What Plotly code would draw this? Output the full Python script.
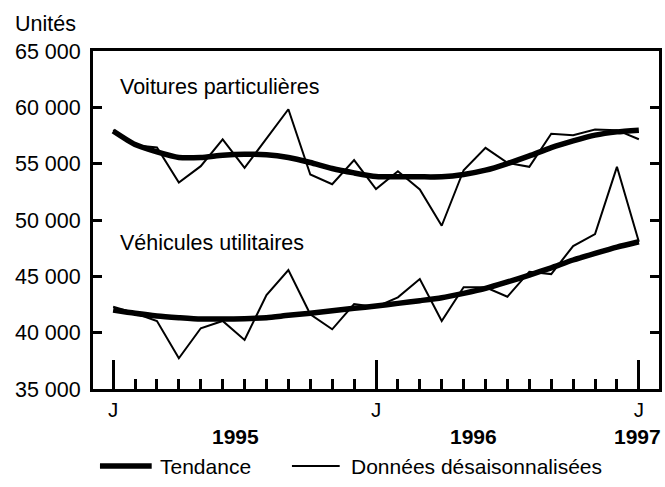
import plotly.graph_objects as go

# Months: index 0 = January 1995 ... 24 = January 1997
months = list(range(25))

voitures_donnees = [57970, 56640, 56440, 53330, 54780, 57150, 54630, 57230, 59830, 54040,
                    53180, 55310, 52740, 54330, 52710, 49490, 54420, 56400, 55070, 54720,
                    57650, 57530, 58030, 57970, 57170]
voitures_tendance = [57900, 56700, 56050, 55550, 55550, 55750, 55840, 55800, 55550, 55100,
                     54570, 54180, 53860, 53830, 53830, 53840, 54040, 54420, 55010, 55690,
                     56430, 57020, 57530, 57820, 57970]

utilitaires_donnees = [42300, 41720, 41040, 37730, 40390, 41040, 39350, 43340, 45560, 41630,
                       40300, 42540, 42280, 43140, 44760, 41040, 44030, 44030, 43190, 45410,
                       45200, 47690, 48750, 54720, 48070]
utilitaires_tendance = [42010, 41720, 41480, 41330, 41210, 41210, 41240, 41330, 41540, 41720,
                        41950, 42160, 42370, 42600, 42840, 43100, 43490, 43930, 44500, 45110,
                        45760, 46450, 47040, 47600, 48070]

y_tickvals = [35000, 40000, 45000, 50000, 55000, 60000, 65000]
y_ticktext = ["35 000", "40 000", "45 000", "50 000", "55 000", "60 000", "65 000"]
x_tickvals = [0, 12, 24]
x_ticktext = ["J", "J", "J"]
years = ["1995", "1996", "1997"]
year_pos = [5.58, 16.43, 23.95]

FONT = "Liberation Sans, Arial, sans-serif"
FS = 21.5
THICK = 5.5
THIN = 2

fig = go.Figure()
for trend, data in [(voitures_tendance, voitures_donnees), (utilitaires_tendance, utilitaires_donnees)]:
    fig.add_trace(go.Scatter(x=months, y=trend, mode="lines",
                             line=dict(color="black", width=THICK, shape="spline", smoothing=0.6),
                             showlegend=False, name="Tendance"))
    fig.add_trace(go.Scatter(x=months, y=data, mode="lines",
                             line=dict(color="black", width=THIN),
                             showlegend=False, name="Données désaisonnalisées"))

L, R, T, B = 93, 3, 51, 98
W, H = 665, 487
pw, ph = W - L - R, H - T - B

def px_x(px):
    return (px - L) / pw

def px_y(py):
    return (H - B - py) / ph

label_x = (118 - 113) / 22.03
annotations = [
    dict(text="Voitures particulières", x=label_x, xref="x", y=px_y(87), yref="paper",
         showarrow=False, xanchor="left", yanchor="middle", font=dict(size=FS)),
    dict(text="Véhicules utilitaires", x=label_x, xref="x", y=px_y(243), yref="paper",
         showarrow=False, xanchor="left", yanchor="middle", font=dict(size=FS)),
    dict(text="Unités", x=px_x(13), xref="paper", y=px_y(24), yref="paper",
         showarrow=False, xanchor="left", yanchor="middle", font=dict(size=FS)),
]

for yr, xp in zip(years, year_pos):
    annotations.append(dict(text="<b>%s</b>" % yr, x=xp, xref="x", y=px_y(436), yref="paper",
                            showarrow=False, xanchor="center", yanchor="middle",
                            font=dict(size=FS - 0.5)))

# legend
leg_y = px_y(466)
annotations.append(dict(text="Tendance", x=px_x(158), xref="paper", y=leg_y, yref="paper",
                        showarrow=False, xanchor="left", yanchor="middle", font=dict(size=FS - 0.5)))
annotations.append(dict(text="Données désaisonnalisées", x=px_x(350), xref="paper", y=leg_y,
                        yref="paper", showarrow=False, xanchor="left", yanchor="middle",
                        font=dict(size=FS - 0.5)))
shapes = [
    dict(type="line", xref="paper", yref="paper", x0=px_x(100), x1=px_x(152), y0=leg_y, y1=leg_y,
         line=dict(color="black", width=THICK)),
    dict(type="line", xref="paper", yref="paper", x0=px_x(293), x1=px_x(341), y0=leg_y, y1=leg_y,
         line=dict(color="black", width=THIN)),
]

fig.update_layout(
    width=W, height=H,
    margin=dict(l=L, r=R, t=T, b=B, pad=0),
    paper_bgcolor="white", plot_bgcolor="white",
    font=dict(family=FONT, size=FS, color="black"),
    annotations=annotations, shapes=shapes,
    showlegend=False,
)
fig.update_xaxes(
    range=[-0.92, 24.92], showgrid=False, zeroline=False,
    showline=True, linecolor="black", linewidth=3, mirror=True,
    ticks="inside", tickvals=x_tickvals, ticktext=x_ticktext,
    ticklen=29, tickwidth=3, tickcolor="black",
    minor=dict(ticks="inside", ticklen=10, tickwidth=3, tickcolor="black", dtick=1, tick0=0),
    tickfont=dict(size=FS - 1), ticklabelstandoff=0,
)
fig.update_yaxes(
    range=[35000, 65000], showgrid=False, zeroline=False,
    showline=True, linecolor="black", linewidth=3, mirror="ticks",
    ticks="inside", tickvals=y_tickvals, ticktext=y_ticktext,
    ticklen=9, tickwidth=3, tickcolor="black",
    tickfont=dict(size=FS), ticklabelstandoff=5,
)

fig.write_html("out.html", config={"displayModeBar": False},
               post_script="document.body.style.margin='0';")
